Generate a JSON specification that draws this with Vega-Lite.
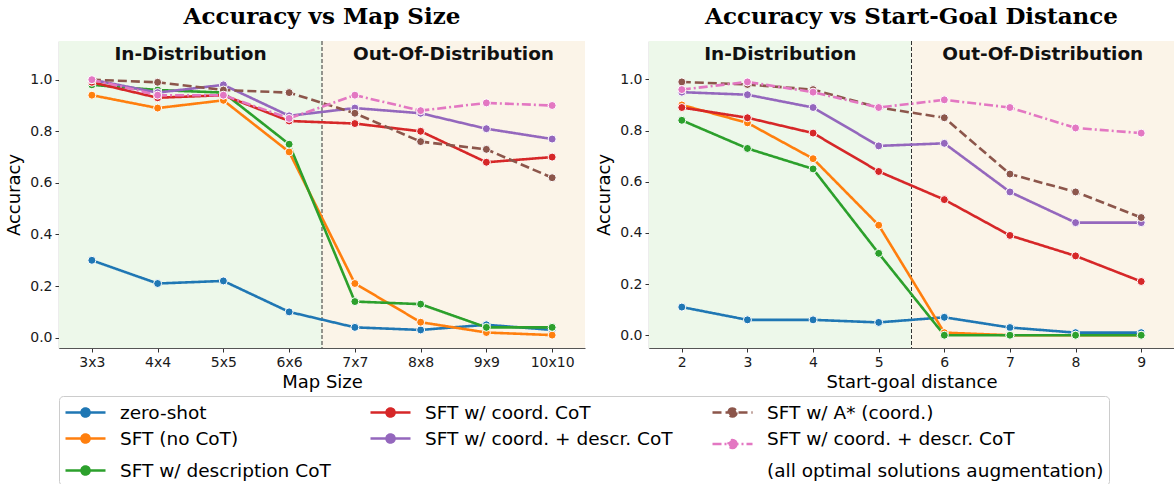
{
  "$schema": "https://vega.github.io/schema/vega-lite/v6.json",
  "padding": {"left": 5, "right": 0, "top": 5, "bottom": 0},
  "config": {
    "view": {"stroke": null},
    "font": "DejaVu Sans",
    "axis": {"grid": false, "domainColor": "#555555", "domainWidth": 1.2, "tickColor": "#333333", "tickSize": 4, "labelFont": "DejaVu Sans", "labelFontSize": 14, "labelColor": "#1a1a1a", "titleFont": "DejaVu Sans", "titleFontSize": 18, "titleFontWeight": "normal", "titleColor": "#000000", "labelPadding": 3},
    "title": {"font": "DejaVu Serif", "fontSize": 23, "fontWeight": "bold", "color": "#000000", "offset": 12}
  },
  "datasets": {
    "mapRegions": [
      {"region": "In-Distribution", "x0": 2.5, "x1": 6.5, "xc": 4.5},
      {"region": "Out-Of-Distribution", "x0": 6.5, "x1": 10.5, "xc": 8.5}
    ],
    "distRegions": [
      {"region": "In-Distribution", "x0": 1.5, "x1": 5.5, "xc": 3.5},
      {"region": "Out-Of-Distribution", "x0": 5.5, "x1": 9.5, "xc": 7.5}
    ],
    "mapData": [
      {"x": 3, "method": "zero-shot", "acc": 0.30},
      {"x": 4, "method": "zero-shot", "acc": 0.21},
      {"x": 5, "method": "zero-shot", "acc": 0.22},
      {"x": 6, "method": "zero-shot", "acc": 0.10},
      {"x": 7, "method": "zero-shot", "acc": 0.04},
      {"x": 8, "method": "zero-shot", "acc": 0.03},
      {"x": 9, "method": "zero-shot", "acc": 0.05},
      {"x": 10, "method": "zero-shot", "acc": 0.03},
      {"x": 3, "method": "SFT (no CoT)", "acc": 0.94},
      {"x": 4, "method": "SFT (no CoT)", "acc": 0.89},
      {"x": 5, "method": "SFT (no CoT)", "acc": 0.92},
      {"x": 6, "method": "SFT (no CoT)", "acc": 0.72},
      {"x": 7, "method": "SFT (no CoT)", "acc": 0.21},
      {"x": 8, "method": "SFT (no CoT)", "acc": 0.06},
      {"x": 9, "method": "SFT (no CoT)", "acc": 0.02},
      {"x": 10, "method": "SFT (no CoT)", "acc": 0.01},
      {"x": 3, "method": "SFT w/ description CoT", "acc": 0.98},
      {"x": 4, "method": "SFT w/ description CoT", "acc": 0.96},
      {"x": 5, "method": "SFT w/ description CoT", "acc": 0.95},
      {"x": 6, "method": "SFT w/ description CoT", "acc": 0.75},
      {"x": 7, "method": "SFT w/ description CoT", "acc": 0.14},
      {"x": 8, "method": "SFT w/ description CoT", "acc": 0.13},
      {"x": 9, "method": "SFT w/ description CoT", "acc": 0.04},
      {"x": 10, "method": "SFT w/ description CoT", "acc": 0.04},
      {"x": 3, "method": "SFT w/ coord. CoT", "acc": 0.99},
      {"x": 4, "method": "SFT w/ coord. CoT", "acc": 0.93},
      {"x": 5, "method": "SFT w/ coord. CoT", "acc": 0.94},
      {"x": 6, "method": "SFT w/ coord. CoT", "acc": 0.84},
      {"x": 7, "method": "SFT w/ coord. CoT", "acc": 0.83},
      {"x": 8, "method": "SFT w/ coord. CoT", "acc": 0.80},
      {"x": 9, "method": "SFT w/ coord. CoT", "acc": 0.68},
      {"x": 10, "method": "SFT w/ coord. CoT", "acc": 0.70},
      {"x": 3, "method": "SFT w/ coord. + descr. CoT", "acc": 1.00},
      {"x": 4, "method": "SFT w/ coord. + descr. CoT", "acc": 0.95},
      {"x": 5, "method": "SFT w/ coord. + descr. CoT", "acc": 0.98},
      {"x": 6, "method": "SFT w/ coord. + descr. CoT", "acc": 0.86},
      {"x": 7, "method": "SFT w/ coord. + descr. CoT", "acc": 0.89},
      {"x": 8, "method": "SFT w/ coord. + descr. CoT", "acc": 0.87},
      {"x": 9, "method": "SFT w/ coord. + descr. CoT", "acc": 0.81},
      {"x": 10, "method": "SFT w/ coord. + descr. CoT", "acc": 0.77},
      {"x": 3, "method": "SFT w/ A* (coord.)", "acc": 1.00},
      {"x": 4, "method": "SFT w/ A* (coord.)", "acc": 0.99},
      {"x": 5, "method": "SFT w/ A* (coord.)", "acc": 0.96},
      {"x": 6, "method": "SFT w/ A* (coord.)", "acc": 0.95},
      {"x": 7, "method": "SFT w/ A* (coord.)", "acc": 0.87},
      {"x": 8, "method": "SFT w/ A* (coord.)", "acc": 0.76},
      {"x": 9, "method": "SFT w/ A* (coord.)", "acc": 0.73},
      {"x": 10, "method": "SFT w/ A* (coord.)", "acc": 0.62},
      {"x": 3, "method": "SFT w/ coord. + descr. CoT (all optimal solutions augmentation)", "acc": 1.00},
      {"x": 4, "method": "SFT w/ coord. + descr. CoT (all optimal solutions augmentation)", "acc": 0.94},
      {"x": 5, "method": "SFT w/ coord. + descr. CoT (all optimal solutions augmentation)", "acc": 0.94},
      {"x": 6, "method": "SFT w/ coord. + descr. CoT (all optimal solutions augmentation)", "acc": 0.85},
      {"x": 7, "method": "SFT w/ coord. + descr. CoT (all optimal solutions augmentation)", "acc": 0.94},
      {"x": 8, "method": "SFT w/ coord. + descr. CoT (all optimal solutions augmentation)", "acc": 0.88},
      {"x": 9, "method": "SFT w/ coord. + descr. CoT (all optimal solutions augmentation)", "acc": 0.91},
      {"x": 10, "method": "SFT w/ coord. + descr. CoT (all optimal solutions augmentation)", "acc": 0.90}
    ],
    "distData": [
      {"x": 2, "method": "zero-shot", "acc": 0.11},
      {"x": 3, "method": "zero-shot", "acc": 0.06},
      {"x": 4, "method": "zero-shot", "acc": 0.06},
      {"x": 5, "method": "zero-shot", "acc": 0.05},
      {"x": 6, "method": "zero-shot", "acc": 0.07},
      {"x": 7, "method": "zero-shot", "acc": 0.03},
      {"x": 8, "method": "zero-shot", "acc": 0.01},
      {"x": 9, "method": "zero-shot", "acc": 0.01},
      {"x": 2, "method": "SFT (no CoT)", "acc": 0.90},
      {"x": 3, "method": "SFT (no CoT)", "acc": 0.83},
      {"x": 4, "method": "SFT (no CoT)", "acc": 0.69},
      {"x": 5, "method": "SFT (no CoT)", "acc": 0.43},
      {"x": 6, "method": "SFT (no CoT)", "acc": 0.01},
      {"x": 7, "method": "SFT (no CoT)", "acc": 0.00},
      {"x": 8, "method": "SFT (no CoT)", "acc": 0.00},
      {"x": 9, "method": "SFT (no CoT)", "acc": 0.00},
      {"x": 2, "method": "SFT w/ description CoT", "acc": 0.84},
      {"x": 3, "method": "SFT w/ description CoT", "acc": 0.73},
      {"x": 4, "method": "SFT w/ description CoT", "acc": 0.65},
      {"x": 5, "method": "SFT w/ description CoT", "acc": 0.32},
      {"x": 6, "method": "SFT w/ description CoT", "acc": 0.00},
      {"x": 7, "method": "SFT w/ description CoT", "acc": 0.00},
      {"x": 8, "method": "SFT w/ description CoT", "acc": 0.00},
      {"x": 9, "method": "SFT w/ description CoT", "acc": 0.00},
      {"x": 2, "method": "SFT w/ coord. CoT", "acc": 0.89},
      {"x": 3, "method": "SFT w/ coord. CoT", "acc": 0.85},
      {"x": 4, "method": "SFT w/ coord. CoT", "acc": 0.79},
      {"x": 5, "method": "SFT w/ coord. CoT", "acc": 0.64},
      {"x": 6, "method": "SFT w/ coord. CoT", "acc": 0.53},
      {"x": 7, "method": "SFT w/ coord. CoT", "acc": 0.39},
      {"x": 8, "method": "SFT w/ coord. CoT", "acc": 0.31},
      {"x": 9, "method": "SFT w/ coord. CoT", "acc": 0.21},
      {"x": 2, "method": "SFT w/ coord. + descr. CoT", "acc": 0.95},
      {"x": 3, "method": "SFT w/ coord. + descr. CoT", "acc": 0.94},
      {"x": 4, "method": "SFT w/ coord. + descr. CoT", "acc": 0.89},
      {"x": 5, "method": "SFT w/ coord. + descr. CoT", "acc": 0.74},
      {"x": 6, "method": "SFT w/ coord. + descr. CoT", "acc": 0.75},
      {"x": 7, "method": "SFT w/ coord. + descr. CoT", "acc": 0.56},
      {"x": 8, "method": "SFT w/ coord. + descr. CoT", "acc": 0.44},
      {"x": 9, "method": "SFT w/ coord. + descr. CoT", "acc": 0.44},
      {"x": 2, "method": "SFT w/ A* (coord.)", "acc": 0.99},
      {"x": 3, "method": "SFT w/ A* (coord.)", "acc": 0.98},
      {"x": 4, "method": "SFT w/ A* (coord.)", "acc": 0.96},
      {"x": 5, "method": "SFT w/ A* (coord.)", "acc": 0.89},
      {"x": 6, "method": "SFT w/ A* (coord.)", "acc": 0.85},
      {"x": 7, "method": "SFT w/ A* (coord.)", "acc": 0.63},
      {"x": 8, "method": "SFT w/ A* (coord.)", "acc": 0.56},
      {"x": 9, "method": "SFT w/ A* (coord.)", "acc": 0.46},
      {"x": 2, "method": "SFT w/ coord. + descr. CoT (all optimal solutions augmentation)", "acc": 0.96},
      {"x": 3, "method": "SFT w/ coord. + descr. CoT (all optimal solutions augmentation)", "acc": 0.99},
      {"x": 4, "method": "SFT w/ coord. + descr. CoT (all optimal solutions augmentation)", "acc": 0.95},
      {"x": 5, "method": "SFT w/ coord. + descr. CoT (all optimal solutions augmentation)", "acc": 0.89},
      {"x": 6, "method": "SFT w/ coord. + descr. CoT (all optimal solutions augmentation)", "acc": 0.92},
      {"x": 7, "method": "SFT w/ coord. + descr. CoT (all optimal solutions augmentation)", "acc": 0.89},
      {"x": 8, "method": "SFT w/ coord. + descr. CoT (all optimal solutions augmentation)", "acc": 0.81},
      {"x": 9, "method": "SFT w/ coord. + descr. CoT (all optimal solutions augmentation)", "acc": 0.79}
    ]
  },
  "hconcat": [
    {
      "width": 526,
      "height": 307,
      "title": "Accuracy vs Map Size",
      "layer": [
        {
          "data": {"name": "mapRegions"},
          "mark": {"type": "rect"},
          "encoding": {
            "x": {"field": "x0", "type": "quantitative", "scale": {"domain": [2.5, 10.5], "nice": false, "zero": false}, "title": "Map Size"},
            "x2": {"field": "x1"},
            "fill": {"condition": {"test": "datum.region == 'In-Distribution'", "value": "#edf8ea"}, "value": "#fbf4e8"}
          }
        },
        {
          "data": {"name": "mapRegions"},
          "transform": [{"filter": "datum.region == 'Out-Of-Distribution'"}],
          "mark": {"type": "rule", "color": "#333333", "strokeWidth": 1, "strokeDash": [4, 2]},
          "encoding": {
            "x": {"field": "x0", "type": "quantitative", "title": "Map Size"}
          }
        },
        {
          "data": {"name": "mapData"},
          "mark": {"type": "line", "strokeWidth": 2.6},
          "encoding": {
            "x": {"field": "x", "type": "quantitative", "title": "Map Size", "scale": {"domain": [2.5, 10.5], "nice": false, "zero": false}, "axis": {"values": [3, 4, 5, 6, 7, 8, 9, 10], "labelExpr": "datum.value + 'x' + datum.value", "titlePadding": 4}},
            "y": {"field": "acc", "type": "quantitative", "title": "Accuracy", "scale": {"domain": [-0.04, 1.15], "nice": false, "zero": false}, "axis": {"values": [0, 0.2, 0.4, 0.6, 0.8, 1.0], "format": ".1f", "titlePadding": 6}},
            "color": {"field": "method", "type": "nominal",
              "scale": {"domain": ["zero-shot", "SFT w/ coord. CoT", "SFT w/ A* (coord.)", "SFT (no CoT)", "SFT w/ coord. + descr. CoT", "SFT w/ coord. + descr. CoT (all optimal solutions augmentation)", "SFT w/ description CoT", "pad1", "pad2"],
                        "range": ["#1f77b4", "#d62728", "#8c564b", "#ff7f0e", "#9467bd", "#e377c2", "#2ca02c", "rgba(0,0,0,0)", "rgba(0,0,0,0)"]},
              "legend": {"orient": "bottom", "columns": 3, "title": null, "symbolType": "M-1,0L3,0M1.4,0A0.4,0.4,0,1,1,0.6,0A0.4,0.4,0,1,1,1.4,0Z", "symbolSize": 400, "symbolStrokeWidth": 2.6, "labelFontSize": 18.5, "labelFont": "DejaVu Sans", "labelColor": "#000000", "labelLimit": 0, "labelOffset": 33, "columnPadding": 34, "rowPadding": 5, "strokeColor": "#cccccc", "padding": 5, "cornerRadius": 4, "offset": 5,
                "labelExpr": "datum.value == 'SFT w/ coord. + descr. CoT (all optimal solutions augmentation)' ? 'SFT w/ coord. + descr. CoT' : (datum.value == 'pad1' ? '' : (datum.value == 'pad2' ? '\u00a0(all optimal solutions augmentation)' : datum.label))",
                "encode": {
                  "symbols": {"update": {
                    "fill": {"scale": "color", "field": "value"},
                    "shape": {"signal": "datum.value == 'SFT w/ coord. + descr. CoT (all optimal solutions augmentation)' ? 'M-1,0.55L3,0.55M1.4,0.55A0.4,0.4,0,1,1,0.6,0.55A0.4,0.4,0,1,1,1.4,0.55Z' : 'M-1,0L3,0M1.4,0A0.4,0.4,0,1,1,0.6,0A0.4,0.4,0,1,1,1.4,0Z'"}
                  }}
                }}},
            "strokeDash": {"field": "method", "type": "nominal",
              "scale": {"domain": ["zero-shot", "SFT w/ coord. CoT", "SFT w/ A* (coord.)", "SFT (no CoT)", "SFT w/ coord. + descr. CoT", "SFT w/ coord. + descr. CoT (all optimal solutions augmentation)", "SFT w/ description CoT", "pad1", "pad2"],
                        "range": [[1, 0], [1, 0], [9, 4], [1, 0], [1, 0], [9, 3, 2, 3], [1, 0], [1, 0], [1, 0]]},
              "legend": {"orient": "bottom", "columns": 3, "title": null, "symbolType": "M-1,0L3,0M1.4,0A0.4,0.4,0,1,1,0.6,0A0.4,0.4,0,1,1,1.4,0Z", "symbolSize": 400, "symbolStrokeWidth": 2.6, "labelFontSize": 18.5, "labelFont": "DejaVu Sans", "labelColor": "#000000", "labelLimit": 0, "labelOffset": 33, "columnPadding": 34, "rowPadding": 5, "strokeColor": "#cccccc", "padding": 5, "cornerRadius": 4, "offset": 5,
                "labelExpr": "datum.value == 'SFT w/ coord. + descr. CoT (all optimal solutions augmentation)' ? 'SFT w/ coord. + descr. CoT' : (datum.value == 'pad1' ? '' : (datum.value == 'pad2' ? '\u00a0(all optimal solutions augmentation)' : datum.label))"}}
          }
        },
        {
          "data": {"name": "mapData"},
          "mark": {"type": "circle", "size": 64, "stroke": "white", "strokeWidth": 1, "opacity": 1},
          "encoding": {
            "x": {"field": "x", "type": "quantitative", "title": "Map Size"},
            "y": {"field": "acc", "type": "quantitative", "title": "Accuracy"},
            "fill": {"field": "method", "type": "nominal", "legend": null,
              "scale": {"domain": ["zero-shot", "SFT w/ coord. CoT", "SFT w/ A* (coord.)", "SFT (no CoT)", "SFT w/ coord. + descr. CoT", "SFT w/ coord. + descr. CoT (all optimal solutions augmentation)", "SFT w/ description CoT", "pad1", "pad2"],
                        "range": ["#1f77b4", "#d62728", "#8c564b", "#ff7f0e", "#9467bd", "#e377c2", "#2ca02c", "rgba(0,0,0,0)", "rgba(0,0,0,0)"]}}
          }
        },
        {
          "data": {"name": "mapRegions"},
          "mark": {"type": "text", "fontSize": 18.5, "fontWeight": "bold", "font": "DejaVu Sans", "color": "#111111", "baseline": "middle"},
          "encoding": {
            "x": {"field": "xc", "type": "quantitative", "title": "Map Size"},
            "y": {"datum": 1.1, "type": "quantitative", "title": "Accuracy"},
            "text": {"field": "region"}
          }
        }
      ]
    },
    {
      "width": 525,
      "height": 307,
      "title": "Accuracy vs Start-Goal Distance",
      "layer": [
        {
          "data": {"name": "distRegions"},
          "mark": {"type": "rect"},
          "encoding": {
            "x": {"field": "x0", "type": "quantitative", "scale": {"domain": [1.5, 9.5], "nice": false, "zero": false}, "title": "Start-goal distance"},
            "x2": {"field": "x1"},
            "fill": {"condition": {"test": "datum.region == 'In-Distribution'", "value": "#edf8ea"}, "value": "#fbf4e8"}
          }
        },
        {
          "data": {"name": "distRegions"},
          "transform": [{"filter": "datum.region == 'Out-Of-Distribution'"}],
          "mark": {"type": "rule", "color": "#333333", "strokeWidth": 1, "strokeDash": [4, 2]},
          "encoding": {
            "x": {"field": "x0", "type": "quantitative", "title": "Start-goal distance"}
          }
        },
        {
          "data": {"name": "distData"},
          "mark": {"type": "line", "strokeWidth": 2.6},
          "encoding": {
            "x": {"field": "x", "type": "quantitative", "title": "Start-goal distance", "scale": {"domain": [1.5, 9.5], "nice": false, "zero": false}, "axis": {"values": [2, 3, 4, 5, 6, 7, 8, 9], "format": "d", "titlePadding": 4}},
            "y": {"field": "acc", "type": "quantitative", "title": "Accuracy", "scale": {"domain": [-0.05, 1.15], "nice": false, "zero": false}, "axis": {"values": [0, 0.2, 0.4, 0.6, 0.8, 1.0], "format": ".1f", "titlePadding": 6}},
            "color": {"field": "method", "type": "nominal"},
            "strokeDash": {"field": "method", "type": "nominal"}
          }
        },
        {
          "data": {"name": "distData"},
          "mark": {"type": "circle", "size": 64, "stroke": "white", "strokeWidth": 1, "opacity": 1},
          "encoding": {
            "x": {"field": "x", "type": "quantitative", "title": "Start-goal distance"},
            "y": {"field": "acc", "type": "quantitative", "title": "Accuracy"},
            "fill": {"field": "method", "type": "nominal", "legend": null}
          }
        },
        {
          "data": {"name": "distRegions"},
          "mark": {"type": "text", "fontSize": 18.5, "fontWeight": "bold", "font": "DejaVu Sans", "color": "#111111", "baseline": "middle"},
          "encoding": {
            "x": {"field": "xc", "type": "quantitative", "title": "Start-goal distance"},
            "y": {"datum": 1.1, "type": "quantitative", "title": "Accuracy"},
            "text": {"field": "region"}
          }
        }
      ]
    }
  ],
  "spacing": 10,
  "resolve": {"scale": {"color": "shared", "strokeDash": "shared", "fill": "shared"}}
}
